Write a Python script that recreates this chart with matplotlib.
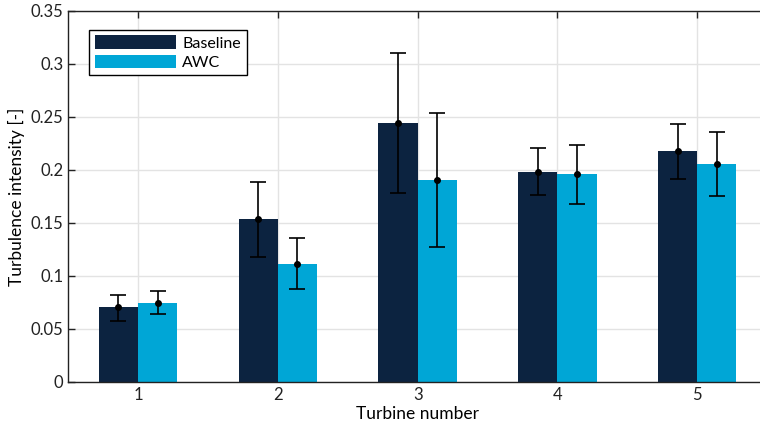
import numpy as np
import matplotlib.pyplot as plt

plt.rcParams["font.family"] = ["Lato", "DejaVu Sans"]

# --- Data ---
turbines = [1, 2, 3, 4, 5]
baseline = [0.0703, 0.1534, 0.2446, 0.1982, 0.2176]
baseline_lo = [0.0580, 0.1180, 0.1780, 0.1760, 0.1913]
baseline_hi = [0.0825, 0.1890, 0.3108, 0.2211, 0.2437]
awc = [0.0743, 0.1117, 0.1907, 0.1960, 0.2057]
awc_lo = [0.0637, 0.0880, 0.1273, 0.1680, 0.1750]
awc_hi = [0.0856, 0.1355, 0.2540, 0.2240, 0.2360]
series_labels = ["Baseline", "AWC"]

COLORS = {"Baseline": "#0C2340", "AWC": "#00A6D6"}
W = 0.28

fig = plt.figure(figsize=(7.6, 4.28), dpi=100)
ax = fig.add_axes([0.0895, 0.1075, 0.920, 0.8668])

x = np.array(turbines, dtype=float)
for off, vals, lo, hi, name in [
    (-W / 2, baseline, baseline_lo, baseline_hi, "Baseline"),
    (W / 2, awc, awc_lo, awc_hi, "AWC"),
]:
    vals = np.array(vals)
    ax.bar(x + off, vals, width=W, color=COLORS[name], label=name, zorder=2)
    yerr = [vals - np.array(lo), np.array(hi) - vals]
    ax.errorbar(x + off, vals, yerr=yerr, fmt="o", color="black", ms=4,
                elinewidth=1.2, capsize=6, capthick=1.2, zorder=3)

ax.set_xlim(0.5, 5.5)
ax.set_ylim(0, 0.35)
ax.set_xticks(turbines)
ax.set_yticks(np.arange(0, 0.351, 0.05))
ax.set_yticklabels(["0", "0.05", "0.1", "0.15", "0.2", "0.25", "0.3", "0.35"])
ax.grid(True, color="#e3e3e3", linewidth=1, zorder=0)
ax.set_axisbelow(True)
ax.tick_params(direction="in", top=True, right=False, labelsize=12, length=5,
               width=1, colors="#222222")
for s in ax.spines.values():
    s.set_linewidth(1)
    s.set_color("#222222")

ax.set_xlabel("Turbine number", fontsize=12.5, labelpad=2)
ax.set_ylabel("Turbulence intensity [-]", fontsize=12.5, labelpad=4)

leg = ax.legend(loc="upper left", bbox_to_anchor=(0.03, 0.95), borderaxespad=0,
                fontsize=11.5, handlelength=5.1, handleheight=0.95,
                labelspacing=0.25, handletextpad=0.4, borderpad=0.35,
                fancybox=False, framealpha=1, edgecolor="black")
leg.get_frame().set_linewidth(1)

plt.savefig("out.png", dpi=100)
